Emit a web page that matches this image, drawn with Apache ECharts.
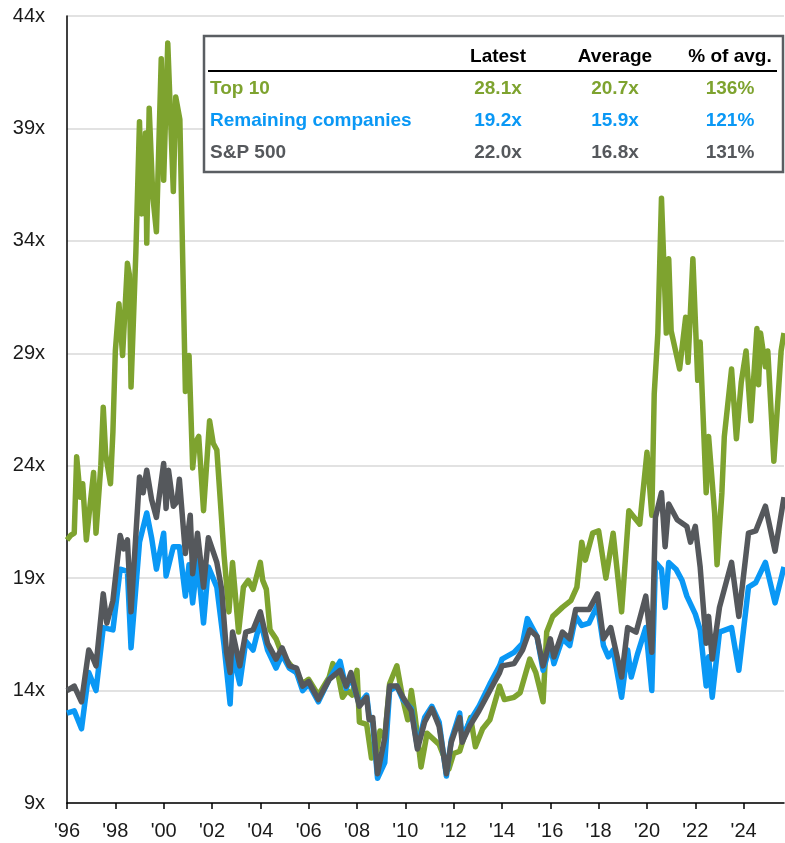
<!DOCTYPE html>
<html><head><meta charset="utf-8">
<script src="https://cdn.jsdelivr.net/npm/echarts@6/dist/echarts.min.js"></script>
<style>html,body{margin:0;padding:0;background:#fff}#c{width:785px;height:843px}</style>
</head><body><div id="c"></div>
<script>
// ---- data (forward P/E) ----
const top10Dates = [1996.0,1996.15,1996.3,1996.4,1996.55,1996.65,1996.8,1997.1,1997.2,1997.4,1997.5,1997.6,1997.8,1997.9,1998.0,1998.15,1998.3,1998.5,1998.58,1998.65,1998.85,1999.0,1999.1,1999.25,1999.3,1999.4,1999.55,1999.7,1999.9,2000.0,2000.17,2000.4,2000.5,2000.67,2000.9,2001.05,2001.2,2001.3,2001.45,2001.65,2001.9,2002.05,2002.2,2002.5,2002.7,2002.85,2003.1,2003.3,2003.5,2003.7,2004.0,2004.1,2004.25,2004.4,2004.65,2004.9,2005.2,2005.5,2005.75,2006.0,2006.4,2006.85,2007.0,2007.2,2007.4,2007.6,2007.8,2008.0,2008.1,2008.4,2008.6,2008.8,2008.95,2009.15,2009.35,2009.65,2009.9,2010.1,2010.25,2010.4,2010.65,2010.9,2011.1,2011.4,2011.8,2012.0,2012.25,2012.45,2012.7,2012.9,2013.2,2013.5,2013.9,2014.1,2014.5,2014.75,2015.15,2015.4,2015.7,2015.85,2016.1,2016.5,2016.85,2017.1,2017.3,2017.45,2017.75,2018.0,2018.3,2018.6,2018.95,2019.25,2019.55,2019.7,2020.0,2020.2,2020.3,2020.45,2020.6,2020.8,2020.9,2021.0,2021.35,2021.6,2021.7,2021.9,2022.1,2022.2,2022.45,2022.55,2022.8,2022.9,2023.1,2023.2,2023.5,2023.7,2023.9,2024.1,2024.3,2024.55,2024.62,2024.7,2024.9,2025.0,2025.25,2025.55,2025.67];
const top10Values = [20.7,20.9,21.0,24.4,22.6,23.2,20.7,23.7,21.0,24.0,26.6,24.5,23.2,25.5,29.1,31.2,28.9,33.0,32.5,27.5,33.5,39.3,35.2,38.8,33.9,39.9,36.0,34.4,42.1,36.7,42.8,36.2,40.4,39.4,27.3,28.9,23.9,25.0,25.3,22.0,26.0,25.0,24.7,20.0,17.5,19.7,16.6,18.6,18.9,18.5,19.7,18.9,18.5,16.7,16.3,15.6,15.2,14.8,14.3,14.5,13.8,14.6,15.2,14.8,13.7,14.0,13.8,14.9,12.6,12.5,11.0,11.2,12.2,11.9,14.3,15.1,13.6,12.7,14.0,12.9,10.6,12.1,11.9,11.6,10.5,11.2,11.3,12.0,12.8,11.5,12.3,12.7,14.2,13.6,13.7,13.9,15.4,14.8,13.5,16.6,17.3,17.7,18.0,18.6,20.6,19.8,21.0,21.1,19.0,21.0,17.5,22.0,21.6,21.4,24.6,21.8,27.2,29.9,35.9,29.9,33.2,30.0,28.3,30.6,28.6,33.2,27.8,29.5,22.8,25.3,21.9,19.6,22.8,25.3,28.3,25.2,27.7,29.1,26.0,30.1,27.6,29.9,28.4,29.1,24.2,29.1,29.9];

const spxDates = [1996.0,1996.3,1996.6,1996.9,1997.05,1997.2,1997.5,1997.65,1997.9,1998.2,1998.35,1998.5,1998.65,1999.0,1999.15,1999.3,1999.5,1999.7,2000.0,2000.1,2000.2,2000.4,2000.55,2000.65,2000.9,2001.1,2001.2,2001.4,2001.65,2001.85,2002.2,2002.4,2002.6,2002.75,2002.85,2003.15,2003.4,2003.7,2004.0,2004.3,2004.65,2004.9,2005.2,2005.5,2005.75,2006.0,2006.4,2006.85,2007.3,2007.55,2007.75,2008.1,2008.4,2008.5,2008.65,2008.85,2009.15,2009.35,2009.65,2009.9,2010.25,2010.5,2010.8,2011.1,2011.4,2011.7,2011.9,2012.25,2012.35,2012.65,2013.05,2013.5,2013.9,2014.0,2014.5,2014.85,2015.15,2015.45,2015.7,2016.0,2016.15,2016.5,2016.8,2017.05,2017.6,2017.95,2018.2,2018.5,2018.95,2019.2,2019.55,2019.95,2020.2,2020.35,2020.6,2020.75,2020.9,2021.25,2021.65,2021.8,2022.0,2022.2,2022.45,2022.55,2022.7,2023.0,2023.5,2023.8,2024.2,2024.5,2024.9,2025.3,2025.67];
const spxValues = [14.0,14.2,13.5,15.8,15.5,15.1,18.3,17.0,18.0,20.9,20.3,20.7,17.5,23.5,22.8,23.8,22.5,21.7,24.1,22.1,23.8,22.2,22.4,23.4,20.1,21.8,19.2,21.0,18.6,20.8,19.7,18.5,15.7,14.8,16.6,15.1,16.6,16.7,17.5,16.1,15.4,15.9,15.1,15.0,14.2,14.4,13.6,14.5,14.9,14.2,14.8,13.3,13.7,12.7,12.8,10.3,11.9,14.2,14.2,13.7,13.1,11.4,12.6,13.2,12.4,10.3,11.7,12.8,11.7,12.4,13.1,14.0,14.8,15.1,15.2,15.8,16.7,16.4,15.1,16.3,15.5,16.6,16.3,17.6,17.6,18.3,16.3,16.8,14.6,16.8,16.6,18.2,15.7,21.7,22.8,20.4,22.3,21.6,21.3,20.6,21.3,19.5,16.1,17.3,15.4,17.7,19.7,17.3,21.0,21.1,22.2,20.2,22.6];

const restDates = [1996.0,1996.3,1996.6,1996.9,1997.2,1997.5,1997.9,1998.2,1998.5,1998.65,1999.0,1999.3,1999.5,1999.7,2000.0,2000.1,2000.4,2000.65,2000.9,2001.05,2001.2,2001.4,2001.65,2001.85,2002.2,2002.5,2002.75,2002.85,2003.15,2003.4,2003.7,2004.0,2004.3,2004.65,2004.9,2005.2,2005.5,2005.75,2006.0,2006.4,2006.85,2007.3,2007.55,2007.75,2008.1,2008.4,2008.5,2008.65,2008.85,2009.15,2009.35,2009.65,2009.9,2010.25,2010.5,2010.8,2011.1,2011.4,2011.7,2011.9,2012.25,2012.35,2012.65,2013.05,2013.5,2013.9,2014.0,2014.5,2014.85,2015.05,2015.45,2015.7,2016.0,2016.15,2016.5,2016.8,2017.05,2017.3,2017.6,2017.95,2018.2,2018.4,2018.6,2018.95,2019.2,2019.35,2019.6,2019.95,2020.2,2020.35,2020.6,2020.75,2020.9,2021.2,2021.45,2021.65,2022.0,2022.2,2022.45,2022.55,2022.7,2023.0,2023.5,2023.8,2024.2,2024.5,2024.9,2025.3,2025.67];
const restValues = [13.0,13.1,12.3,14.8,14.0,16.8,16.7,19.4,19.3,15.9,20.6,21.9,20.8,19.4,21.0,19.1,20.4,20.4,18.2,19.6,17.9,19.8,17.0,19.5,18.6,16.0,13.4,15.7,14.3,16.2,15.8,17.1,15.8,15.0,15.6,15.0,14.8,14.0,14.3,13.5,14.5,15.3,14.1,14.6,13.4,13.8,12.9,12.6,10.1,10.8,14.0,14.2,13.6,13.2,11.5,12.8,13.3,12.6,10.2,11.8,13.0,11.9,12.6,13.3,14.3,15.1,15.4,15.7,16.1,17.2,16.4,14.9,16.0,15.2,16.3,16.0,17.3,16.9,17.0,17.8,16.0,15.5,15.8,13.7,15.8,14.6,15.6,16.8,14.0,19.7,19.4,17.7,19.7,19.4,18.9,18.2,17.4,16.7,14.2,15.5,13.7,16.6,16.8,14.9,18.6,18.8,19.7,17.9,19.5];

const seriesNames = ['Top 10', 'Remaining companies', 'S&P 500'];
const tableHeaders = ['Latest', 'Average', '% of avg.'];
const latestVals = ['28.1x', '19.2x', '22.0x'];
const averageVals = ['20.7x', '15.9x', '16.8x'];
const pctVals = ['136%', '121%', '131%'];
const xTickYears = [1996,1998,2000,2002,2004,2006,2008,2010,2012,2014,2016,2018,2020,2022,2024];
const yMin = 9, yMax = 44, yStep = 5;
const xMin = 1996, xMax = 2025.67;

const colors = ['#7EA32F', '#0A98F5', '#55585C'];
const FONT = '"Liberation Sans", Arial, sans-serif';

function pairs(d, v) { return d.map((x, i) => [x, v[i]]); }

const chart = echarts.init(document.getElementById('c'), null, {renderer: 'canvas'});

// legend table graphic
const boxL = 204, boxT = 36, boxW = 579, boxH = 136;
const colX = [498, 615, 730];
const rowY = [89, 121, 153];
const TF = 'bold 19px ' + FONT;
const g = [];
g.push({type: 'rect', shape: {x: boxL, y: boxT, width: boxW, height: boxH},
  style: {fill: '#fff', stroke: '#5A5E62', lineWidth: 2.5}, z: 100});
g.push({type: 'line', shape: {x1: boxL + 4, y1: 71, x2: boxL + boxW - 6, y2: 71},
  style: {stroke: '#000', lineWidth: 2}, z: 101});
tableHeaders.forEach((h, i) => g.push({type: 'text', x: colX[i], y: 57, z: 101,
  style: {text: h, font: TF, fill: '#000', align: 'center', verticalAlign: 'middle'}}));
seriesNames.forEach((n, r) => {
  g.push({type: 'text', x: boxL + 6, y: rowY[r], z: 101,
    style: {text: n, font: TF, fill: colors[r], align: 'left', verticalAlign: 'middle'}});
  [latestVals[r], averageVals[r], pctVals[r]].forEach((t, i) => g.push({type: 'text', x: colX[i], y: rowY[r], z: 101,
    style: {text: t, font: TF, fill: colors[r], align: 'center', verticalAlign: 'middle'}}));
});

chart.setOption({
  animation: false,
  backgroundColor: '#fff',
  grid: {left: 67, right: 1, top: 16, bottom: 40, containLabel: false},
  xAxis: {
    type: 'value', min: xMin, max: xMax, interval: 2,
    axisLine: {show: true, lineStyle: {color: '#000', width: 1.5}},
    axisTick: {show: true, inside: false, length: 6, lineStyle: {color: '#000', width: 1.5}, customValues: xTickYears},
    axisLabel: {customValues: xTickYears, margin: 18, fontSize: 20, fontFamily: FONT, color: '#1a1a1a',
      formatter: v => "'" + String(Math.round(v) % 100).padStart(2, '0')},
    splitLine: {show: false}
  },
  yAxis: {
    type: 'value', min: yMin, max: yMax, interval: yStep,
    axisLine: {show: true, lineStyle: {color: '#000', width: 1.5}},
    axisTick: {show: false},
    axisLabel: {margin: 22, fontSize: 20, fontFamily: FONT, color: '#1a1a1a', formatter: v => v + 'x'},
    splitLine: {show: true, lineStyle: {color: '#D9D9D9', width: 1.5}}
  },
  series: [
    {name: seriesNames[0], type: 'line', data: pairs(top10Dates, top10Values), showSymbol: false,
      lineStyle: {color: colors[0], width: 5.5, join: 'round'}, z: 2},
    {name: seriesNames[1], type: 'line', data: pairs(restDates, restValues), showSymbol: false,
      lineStyle: {color: colors[1], width: 5.5, join: 'round'}, z: 3},
    {name: seriesNames[2], type: 'line', data: pairs(spxDates, spxValues), showSymbol: false,
      lineStyle: {color: colors[2], width: 5.5, join: 'round'}, z: 4}
  ],
  graphic: g
});
</script>
</body></html>
